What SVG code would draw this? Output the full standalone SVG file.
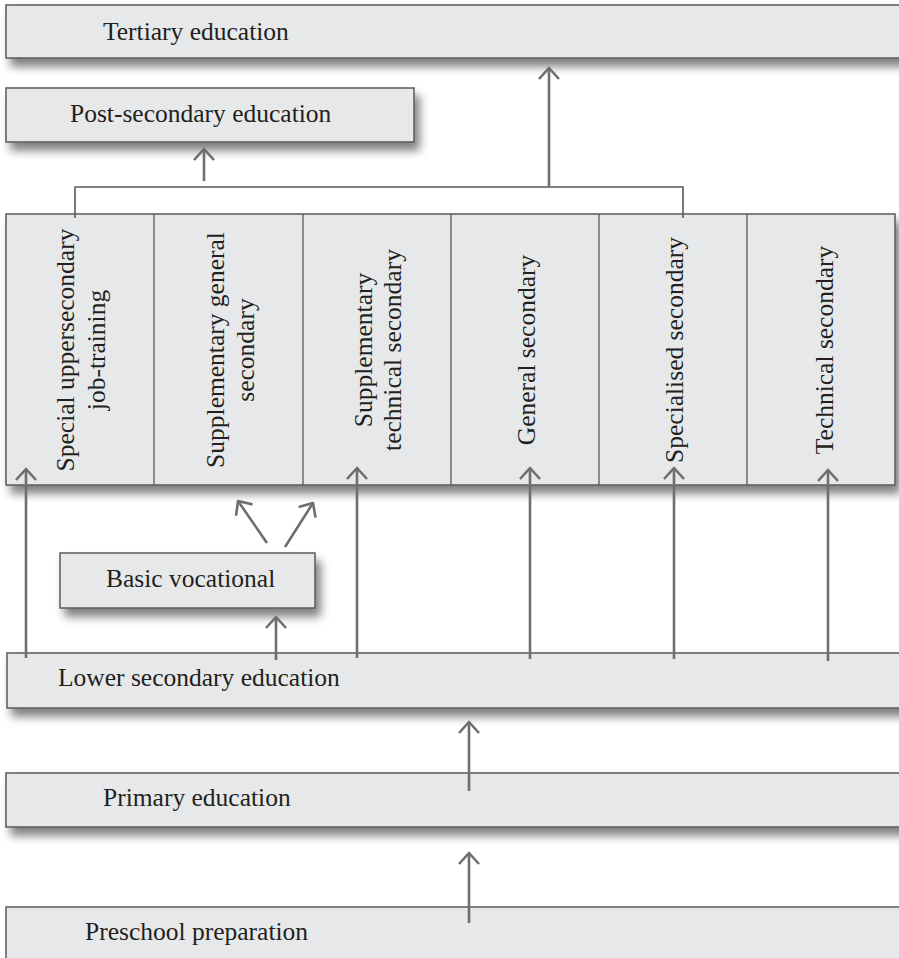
<svg xmlns="http://www.w3.org/2000/svg" width="899" height="958" viewBox="0 0 899 958">
<style>
.box{fill:#e7e8e9;stroke:#58595b;stroke-width:1.5}
.lbl{font-family:"Liberation Serif","Times New Roman",serif;font-size:25.5px;fill:#231f20}
.vl{font-family:"Liberation Serif","Times New Roman",serif;font-size:25.5px;fill:#231f20;text-anchor:middle}
.arr{stroke:#6d6e71;stroke-width:2.6;fill:none;marker-end:url(#ah)}
.brk{stroke:#58595b;stroke-width:1.6;fill:none}
.div{stroke:#58595b;stroke-width:1.3}
</style>
<defs>
<filter id="sh" x="-5%" y="-30%" width="115%" height="190%">
<feGaussianBlur in="SourceAlpha" stdDeviation="5"/>
<feOffset dx="5" dy="8" result="b"/>
<feComponentTransfer><feFuncA type="linear" slope="0.5"/></feComponentTransfer>
<feMerge><feMergeNode/><feMergeNode in="SourceGraphic"/></feMerge>
</filter>
<marker id="ah" markerUnits="userSpaceOnUse" markerWidth="30" markerHeight="30" viewBox="-15 -15 30 30" refX="0" refY="0" orient="auto" overflow="visible">
<path d="M-11,-10 L0,0 L-11,10" fill="none" stroke="#6d6e71" stroke-width="2.6" stroke-linejoin="round"/>
</marker>
</defs>
<rect width="899" height="958" fill="#ffffff"/>

<g id="tertiary">
<rect class="box" x="6" y="5" width="900" height="53" filter="url(#sh)"/>
<text class="lbl" x="103" y="40">Tertiary education</text>
</g>

<g id="post-secondary">
<rect class="box" x="6" y="88" width="408" height="54" filter="url(#sh)"/>
<text class="lbl" x="70" y="122">Post-secondary education</text>
</g>

<g id="secondary">
<rect class="box" x="6" y="214" width="889" height="271" filter="url(#sh)"/>
<line class="div" x1="154" y1="214" x2="154" y2="485"/>
<line class="div" x1="303" y1="214" x2="303" y2="485"/>
<line class="div" x1="451" y1="214" x2="451" y2="485"/>
<line class="div" x1="599" y1="214" x2="599" y2="485"/>
<line class="div" x1="747" y1="214" x2="747" y2="485"/>
</g>
<g id="special-uppersecondary">
<text class="vl" transform="translate(74,350) rotate(-90)"><tspan x="0" y="0">Special uppersecondary</tspan><tspan x="0" dy="31">job-training</tspan></text>
</g>
<g id="supplementary-general">
<text class="vl" transform="translate(224,350) rotate(-90)"><tspan x="0" y="0">Supplementary general</tspan><tspan x="0" dy="30">secondary</tspan></text>
</g>
<g id="supplementary-technical">
<text class="vl" transform="translate(372,350) rotate(-90)"><tspan x="0" y="0">Supplementary</tspan><tspan x="0" dy="29">technical secondary</tspan></text>
</g>
<g id="general-secondary">
<text class="vl" transform="translate(535,350) rotate(-90)">General secondary</text>
</g>
<g id="specialised-secondary">
<text class="vl" transform="translate(683,350) rotate(-90)">Specialised secondary</text>
</g>
<g id="technical-secondary">
<text class="vl" transform="translate(833,350) rotate(-90)">Technical secondary</text>
</g>

<g id="basic-vocational">
<rect class="box" x="60" y="553" width="255" height="55" filter="url(#sh)"/>
<text class="lbl" x="106" y="587">Basic vocational</text>
</g>

<g id="lower-secondary">
<rect class="box" x="7" y="653" width="900" height="55" filter="url(#sh)"/>
<text class="lbl" x="58" y="686">Lower secondary education</text>
</g>

<g id="primary">
<rect class="box" x="6" y="773" width="900" height="54" filter="url(#sh)"/>
<text class="lbl" x="103" y="806">Primary education</text>
</g>

<g id="preschool">
<rect class="box" x="6" y="907" width="900" height="60"/>
<text class="lbl" x="85" y="940">Preschool preparation</text>
</g>

<g id="connectors">
<path class="brk" d="M75,218 V187 H683 V218"/>
<line class="arr" x1="204" y1="181" x2="204" y2="149"/>
<line class="arr" x1="549" y1="187" x2="549" y2="68"/>
<line class="arr" x1="26" y1="658" x2="26" y2="469"/>
<line class="arr" x1="357" y1="658" x2="357" y2="468"/>
<line class="arr" x1="530" y1="659" x2="530" y2="468"/>
<line class="arr" x1="674" y1="659" x2="674" y2="468"/>
<line class="arr" x1="828" y1="661" x2="828" y2="470"/>
<line class="arr" x1="276" y1="660" x2="276" y2="617"/>
<line class="arr" x1="267" y1="543" x2="238" y2="501"/>
<line class="arr" x1="285" y1="547" x2="313" y2="503"/>
<line class="arr" x1="469" y1="791" x2="469" y2="722"/>
<line class="arr" x1="469" y1="923" x2="469" y2="853"/>
</g>
</svg>
